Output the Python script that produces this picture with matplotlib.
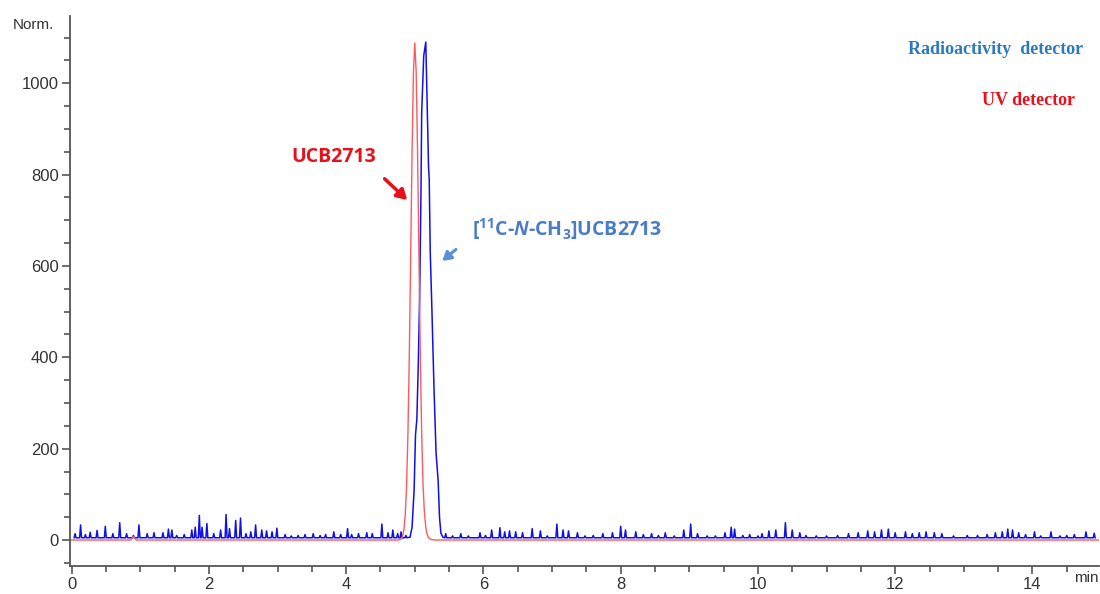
import numpy as np
import matplotlib.pyplot as plt

# radioactivity detector: small baseline spikes (min, Norm.)
spike_t = [0.05, 0.13, 0.20, 0.27, 0.37, 0.49, 0.60, 0.70, 0.80, 0.90, 0.98, 1.10, 1.20, 1.33,
           1.41, 1.46, 1.53, 1.64, 1.75, 1.80, 1.86, 1.90, 1.97, 2.07, 2.17, 2.25, 2.30, 2.39,
           2.46, 2.54, 2.61, 2.68, 2.77, 2.84, 2.92, 2.99, 3.11, 3.20, 3.30, 3.40, 3.52, 3.62,
           3.70, 3.82, 3.92, 4.02, 4.08, 4.18, 4.30, 4.38, 4.52, 4.61, 4.68, 4.75, 4.80, 4.87,
           5.45, 5.55, 5.67, 5.78, 5.95, 6.03, 6.12, 6.24, 6.31, 6.38, 6.47, 6.57, 6.71, 6.83,
           6.93, 7.07, 7.16, 7.24, 7.37, 7.48, 7.60, 7.74, 7.88, 8.00, 8.07, 8.22, 8.33, 8.45,
           8.55, 8.65, 8.78, 8.92, 9.02, 9.12, 9.26, 9.38, 9.52, 9.61, 9.66, 9.78, 9.88, 10.00,
           10.06, 10.16, 10.26, 10.40, 10.50, 10.61, 10.70, 10.85, 11.00, 11.16, 11.32, 11.46,
           11.60, 11.70, 11.80, 11.90, 12.00, 12.15, 12.25, 12.35, 12.45, 12.57, 12.68, 12.85,
           13.05, 13.20, 13.34, 13.46, 13.56, 13.64, 13.71, 13.80, 13.90, 14.03, 14.12, 14.27,
           14.40, 14.50, 14.61, 14.78, 14.90]
spike_v = [14, 33, 12, 17, 21, 30, 14, 38, 14, 10, 33, 14, 16, 16,
           24, 22, 10, 12, 22, 28, 54, 28, 36, 14, 22, 56, 25, 43,
           48, 14, 18, 33, 22, 20, 18, 26, 12, 9, 10, 12, 14, 10,
           12, 18, 12, 25, 12, 14, 16, 14, 35, 16, 22, 14, 18, 10,
           14, 9, 14, 9, 16, 10, 22, 27, 18, 20, 18, 16, 25, 20,
           9, 35, 22, 20, 16, 9, 10, 14, 16, 30, 22, 18, 12, 14,
           10, 16, 9, 22, 35, 14, 9, 9, 16, 28, 24, 10, 12, 9,
           14, 20, 22, 38, 22, 16, 10, 9, 9, 10, 14, 16,
           20, 18, 22, 24, 16, 18, 14, 16, 18, 16, 14, 9,
           10, 10, 12, 16, 18, 24, 22, 16, 12, 18, 9, 18,
           9, 10, 12, 18, 15]
radio_base = 5

# radioactivity detector main peak
radio_peak_t = [4.93, 4.96, 4.99, 5.01, 5.03, 5.05, 5.07, 5.09, 5.10, 5.13, 5.16, 5.18, 5.20,
                5.21, 5.225, 5.25, 5.28, 5.31, 5.33, 5.34, 5.36, 5.38, 5.41]
radio_peak_v = [6, 28, 110, 230, 265, 380, 528, 760, 935, 1060, 1090, 950, 818,
                790, 630, 500, 330, 190, 152, 130, 50, 15, 6]

# UV detector
uv_t = [0.0, 0.86, 0.90, 0.94, 4.76, 4.80, 4.82, 4.84, 4.86, 4.88, 4.90, 4.92, 4.94, 4.96, 4.98,
        5.00, 5.02, 5.04, 5.06, 5.08, 5.10, 5.12, 5.14, 5.16, 5.18, 5.20, 5.24, 5.30, 15.0]
uv_v = [0, 0, 8, 0, 0, 2, 7, 21, 53, 119, 234, 406, 626, 850, 1024,
        1088, 1024, 850, 626, 406, 234, 119, 60, 28, 12, 5, 1, 0, 0]

# build radio trace from spikes + peak
pts = []
for t, v in zip(spike_t, spike_v):
    pts += [(t - 0.014, radio_base), (t, v), (t + 0.014, radio_base)]
pts += list(zip(radio_peak_t, radio_peak_v))
pts = sorted(pts)
radio_t = np.array([p[0] for p in pts])
radio_v = np.array([p[1] for p in pts])

plt.rcParams['font.family'] = ['Liberation Sans', 'DejaVu Sans']

fig = plt.figure(figsize=(11, 5.94), dpi=100)
ax = fig.add_axes([0.0636, 0.047, 0.9355, 0.926])

ax.plot(radio_t, radio_v, color='#1010e8', lw=1.1)
ax.plot(uv_t, uv_v, color='#ff5a5a', lw=1.0)

ax.set_xlim(-0.025, 14.97)
ax.set_ylim(-57, 1147)
ax.set_xticks(np.arange(0, 15, 2))
ax.set_xticks(np.arange(0, 15, 0.5), minor=True)
ax.set_yticks(np.arange(0, 1001, 200))
ax.set_yticks(np.arange(-50, 1101, 50), minor=True)

for s in ['top', 'right']:
    ax.spines[s].set_visible(False)
for s in ['left', 'bottom']:
    ax.spines[s].set_color('#555555')
    ax.spines[s].set_linewidth(1.3)
ax.tick_params(which='major', length=6, width=1.2, color='#555555',
               labelsize=12, labelcolor='#333333', pad=2)
ax.tick_params(which='minor', length=4, width=1.2, color='#555555')

fig.text(0.012, 0.958, 'Norm.', fontsize=11, color='#333333', va='center', ha='left')
fig.text(0.999, 0.027, 'min', fontsize=11, color='#333333', va='center', ha='right')

fig.text(0.9845, 0.9175, 'Radioactivity  detector', family='Liberation Serif', weight='bold',
         fontsize=13, color='#2a7ac2', ha='right', va='center')
fig.text(0.977, 0.8316, 'UV detector', family='Liberation Serif', weight='bold',
         fontsize=13, color='#e8101a', ha='right', va='center')

ax.text(3.2, 839, 'UCB2713', fontsize=14, weight='bold',
        family='Open Sans', color='#e8101a', va='center', ha='left')
ax.annotate('', xy=(4.92, 740), xytext=(4.53, 795),
            arrowprops=dict(arrowstyle='-|>,head_length=0.6,head_width=0.35',
                            color='#e8101a', lw=2.5))

plt.rcParams['mathtext.fontset'] = 'custom'
plt.rcParams['mathtext.rm'] = 'Open Sans:bold'
plt.rcParams['mathtext.it'] = 'Open Sans:italic:bold'
plt.rcParams['mathtext.bf'] = 'Open Sans:bold'
ax.text(5.84, 680, r'[$^{\mathrm{11}}$C-$\mathit{N}$-CH$_{\mathrm{3}}$]UCB2713', fontsize=14,
        weight='bold', family='Open Sans', color='#4a7cc8', va='center', ha='left')
ax.annotate('', xy=(5.37, 607), xytext=(5.63, 640),
            arrowprops=dict(arrowstyle='-|>,head_length=0.5,head_width=0.3',
                            color='#5b8fd6', lw=2.2))

fig.savefig('out.png', dpi=100)
